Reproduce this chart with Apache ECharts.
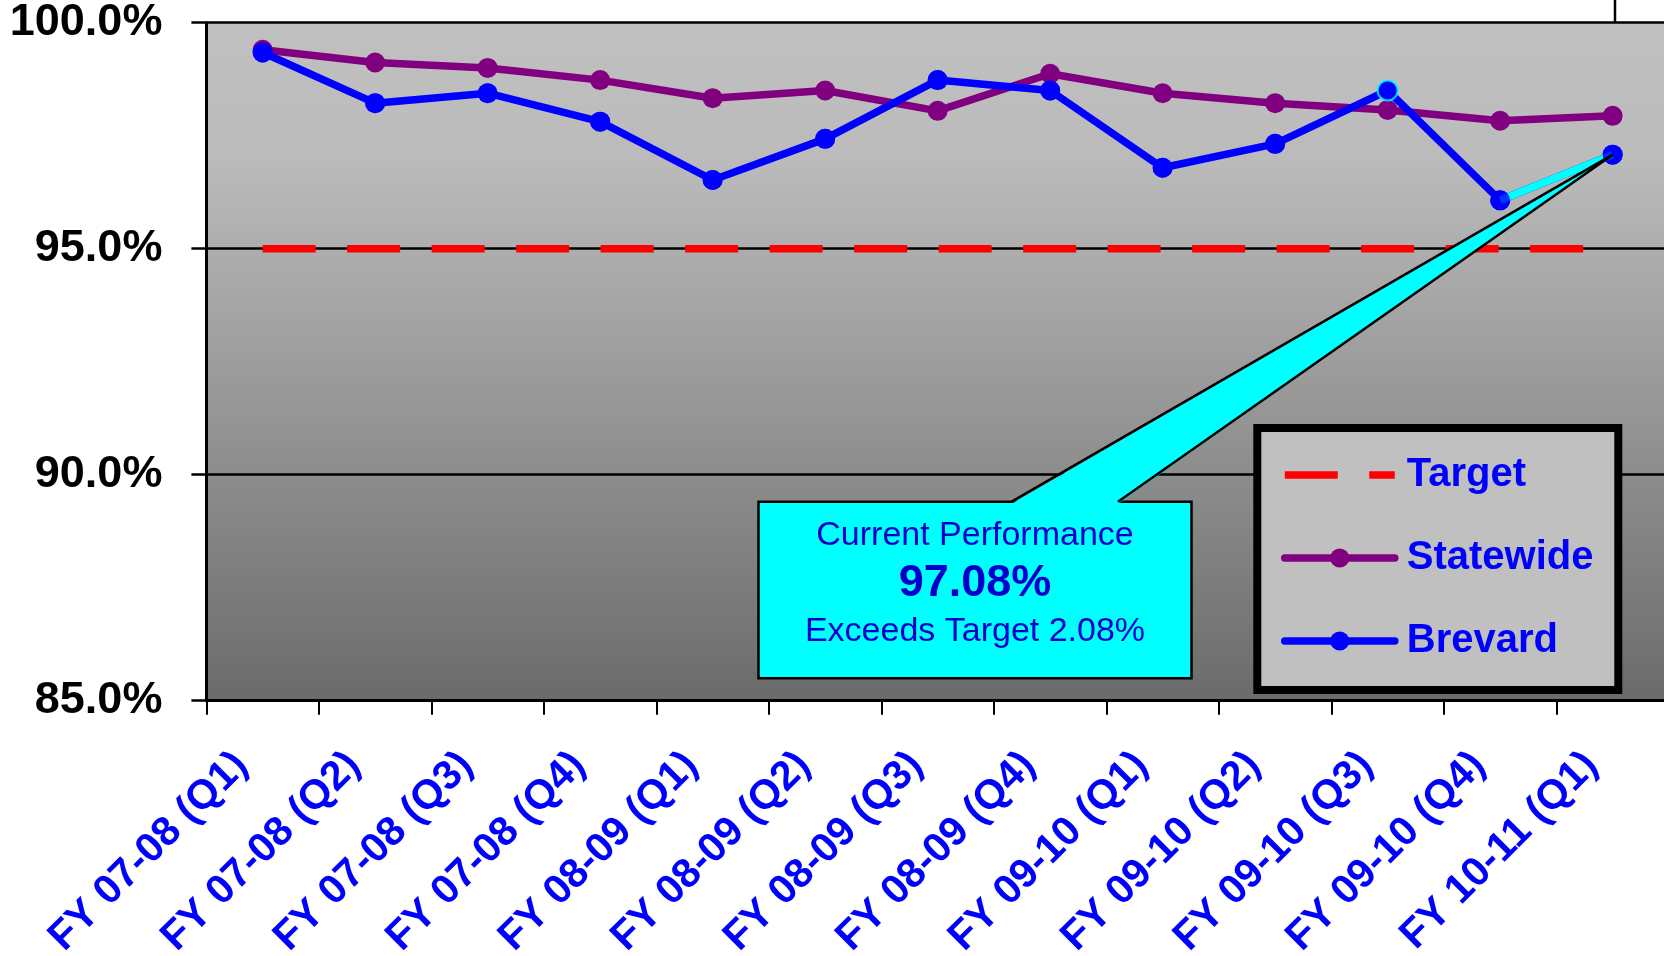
<!DOCTYPE html>
<html>
<head>
<meta charset="utf-8">
<script src="https://cdn.jsdelivr.net/npm/echarts@6/dist/echarts.min.js"></script>
<style>
html,body{margin:0;padding:0;background:#fff;}
#c{width:1664px;height:956px;}
</style>
</head>
<body>
<div id="c"></div>
<script>
const categories = ['FY 07-08 (Q1)','FY 07-08 (Q2)','FY 07-08 (Q3)','FY 07-08 (Q4)','FY 08-09 (Q1)','FY 08-09 (Q2)','FY 08-09 (Q3)','FY 08-09 (Q4)','FY 09-10 (Q1)','FY 09-10 (Q2)','FY 09-10 (Q3)','FY 09-10 (Q4)','FY 10-11 (Q1)'];
const targetValues = [95,95,95,95,95,95,95,95,95,95,95,95,95];
const statewideValues = [99.40,99.12,99.00,98.73,98.33,98.50,98.05,98.87,98.44,98.22,98.07,97.83,97.94];
const brevardValues = [99.34,98.22,98.44,97.81,96.52,97.43,98.73,98.50,96.79,97.32,98.50,96.07,97.08];
const yMin = 85, yMax = 100, yStep = 5;
const calloutLines = ['Current Performance','97.08%','Exceeds Target 2.08%'];
const highlightIndex = 10;

const chart = echarts.init(document.getElementById('c'), null, {renderer:'canvas'});
const FONT = '"Liberation Sans", Arial, sans-serif';

const cyanSeg = brevardValues.map((v,i)=> i >= brevardValues.length-2 ? v : null);
const markerData = brevardValues.map((v,i)=> i === highlightIndex ? {value:v, itemStyle:{borderColor:'#00ffff', borderWidth:2}} : v);

const option = {
  backgroundColor:'#ffffff',
  animation:false,
  grid:{
    left:206.4, top:22.7, width:1462.5, height:678,
    containLabel:false, outerBoundsMode:'none',
    show:true, borderWidth:0,
    backgroundColor: new echarts.graphic.LinearGradient(0,0,0,1,[
      {offset:0,color:'#c0c0c0'},
      {offset:0.2,color:'#bbbbbb'},
      {offset:1,color:'#6b6b6b'}
    ])
  },
  legend:{
    orient:'vertical', left:1276, top:450, z:200,
    data:[
      {name:'Target', itemStyle:{opacity:0}, lineStyle:{cap:'butt'}},
      {name:'Statewide'},
      {name:'Brevard'}
    ],
    itemWidth:110, itemHeight:24, itemGap:43,
    lineStyle:{width:7.5, cap:'round'},
    textStyle:{color:'#0000ff', fontWeight:'bold', fontSize:40, fontFamily:FONT, lineHeight:40, padding:[0,0,0,7]},
    selectedMode:false
  },
  xAxis:{
    type:'category', data:categories, boundaryGap:true,
    axisLine:{show:true, lineStyle:{color:'#000', width:3}},
    axisTick:{show:true, interval:0, length:14, lineStyle:{color:'#000', width:2}},
    axisLabel:{interval:0, rotate:45, margin:37, padding:[0,30,0,0], color:'#0000ff', fontWeight:'bold', fontSize:41, fontFamily:FONT},
    splitLine:{show:false}
  },
  yAxis:{
    type:'value', min:yMin, max:yMax, interval:yStep,
    axisLine:{show:true, lineStyle:{color:'#000', width:3}},
    axisTick:{show:true, length:15, lineStyle:{color:'#000', width:2.5}},
    axisLabel:{margin:44, padding:[4,0,0,0], color:'#000', fontWeight:'bold', fontSize:45, fontFamily:FONT, formatter:v=>v.toFixed(1)+'%'},
    splitLine:{show:true, lineStyle:{color:'#000', width:2.5}}
  },
  series:[
    {name:'Target', type:'line', data:targetValues, symbol:'none', z:2,
     lineStyle:{color:'#ff0000', width:7.5, type:[53,31.5], cap:'butt'}, itemStyle:{color:'#ff0000'}},
    {name:'Statewide', type:'line', data:statewideValues, symbol:'circle', symbolSize:20, z:3,
     lineStyle:{color:'#800080', width:7.5}, itemStyle:{color:'#800080'}},
    {name:'Brevard', type:'line', data:brevardValues, symbol:'circle', symbolSize:20, z:4,
     lineStyle:{color:'#0000ff', width:7.5}, itemStyle:{color:'#0000ff'}},
    {name:'BrevardLatest', type:'line', data:cyanSeg, symbol:'none', z:5,
     lineStyle:{color:'#00ffff', width:7.5}},
    {name:'BrevardPoints', type:'scatter', data:markerData, symbol:'circle', symbolSize:20, z:6,
     itemStyle:{color:'#0000ff'}}
  ]
};
chart.setOption(option);

const last = brevardValues.length-1;
const tip = chart.convertToPixel({xAxisIndex:0, yAxisIndex:0}, [last, brevardValues[last]]);
const box = {x:758.5, y:501.7, w:433, h:176.6};
const baseL = 1011.7, baseR = 1118;
chart.setOption({
  graphic:[
    {type:'line', z:100, shape:{x1:1615, y1:0, x2:1615, y2:22}, style:{stroke:'#000', lineWidth:2.5}},
    {type:'rect', z:100, shape:{x:1257.3, y:428, width:361, height:262}, style:{fill:'#c0c0c0', stroke:'#000', lineWidth:8}},
    {type:'rect', z:100, shape:{x:box.x, y:box.y, width:box.w, height:box.h}, style:{fill:'#00ffff', stroke:'#000', lineWidth:2.5}},
    {type:'polygon', z:101, shape:{points:[[baseL, box.y+2],[baseR, box.y+2],tip]}, style:{fill:'#00ffff'}},
    {type:'line', z:102, shape:{x1:baseL, y1:box.y, x2:tip[0], y2:tip[1]}, style:{stroke:'#000', lineWidth:2.5}},
    {type:'line', z:102, shape:{x1:baseR, y1:box.y, x2:tip[0], y2:tip[1]}, style:{stroke:'#000', lineWidth:2.5}},
    {type:'text', z:103, x:975, y:535.5, style:{text:calloutLines[0], fill:'#0000cc', font:'34px '+FONT, textAlign:'center', textVerticalAlign:'middle'}},
    {type:'text', z:103, x:975, y:584, style:{text:calloutLines[1], fill:'#0000cc', font:'bold 45px '+FONT, textAlign:'center', textVerticalAlign:'middle'}},
    {type:'text', z:103, x:975, y:632, style:{text:calloutLines[2], fill:'#0000cc', font:'34px '+FONT, textAlign:'center', textVerticalAlign:'middle'}}
  ]
});
</script>
</body>
</html>
